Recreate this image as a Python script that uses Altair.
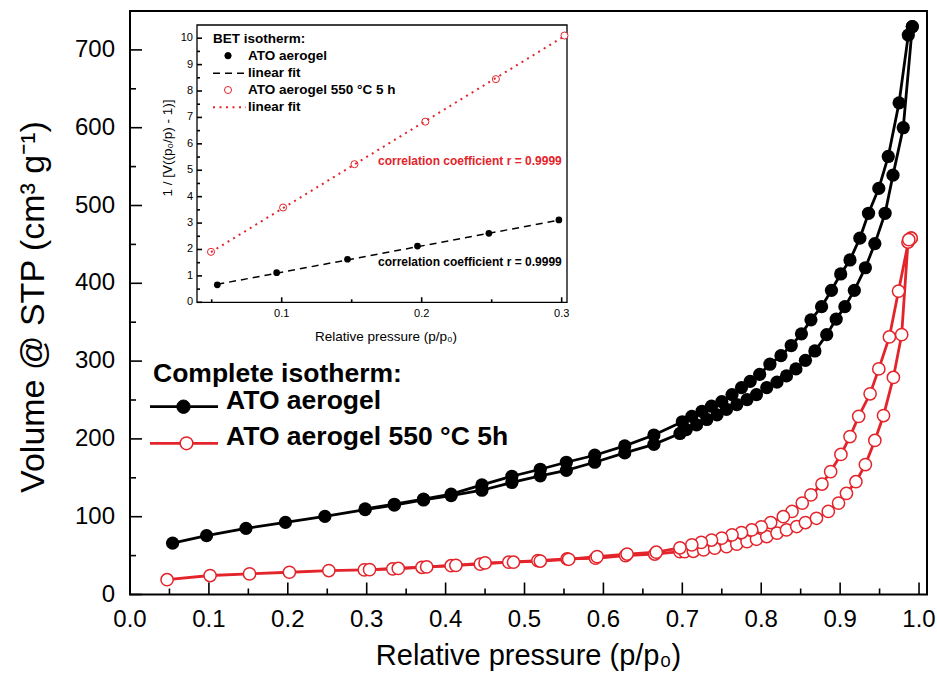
import altair as alt
import pandas as pd

FONT = "Liberation Sans"
BLACK = "#000000"
RED = "#e3242b"

# Complete N2 isotherm, ATO aerogel (p/p0, cm3 g-1 STP)
ato_ads_p = [0.054, 0.097, 0.147, 0.197, 0.247, 0.298, 0.335, 0.372, 0.407, 0.446,
             0.484, 0.520, 0.553, 0.589, 0.627, 0.664, 0.697, 0.705, 0.718, 0.731,
             0.744, 0.756, 0.769, 0.782, 0.794, 0.807, 0.820, 0.832, 0.844, 0.856,
             0.868, 0.883, 0.895, 0.906, 0.918, 0.932, 0.944, 0.957, 0.967, 0.980, 0.9915]
ato_ads_v = [66, 75.6, 85, 92.7, 100.4, 109, 115, 121.5, 127, 134,
             144, 152.5, 159.5, 170, 182, 193, 207, 212, 218, 225,
             231, 238, 244, 250.5, 257, 266, 273, 281, 290, 301,
             313, 334, 354, 370, 391, 420, 451, 490, 539, 600, 730]
ato_des_p = [0.9915, 0.9864, 0.9747, 0.961, 0.949, 0.936, 0.925, 0.9125, 0.9007, 0.889,
             0.8765, 0.863, 0.851, 0.838, 0.825, 0.811, 0.798, 0.786, 0.775, 0.763,
             0.750, 0.737, 0.725, 0.712, 0.700, 0.664, 0.627, 0.589, 0.553, 0.520,
             0.484, 0.446, 0.407, 0.372, 0.335, 0.298]
ato_des_v = [730, 719, 632, 563, 522, 490, 458, 430, 412, 391,
             370, 353, 335, 320, 307, 296, 283, 274, 266, 257,
             248, 242, 235.5, 229, 222, 205, 191, 179, 170, 161,
             152, 141, 129, 122.5, 116, 110]

# Complete N2 isotherm, ATO aerogel 550 °C 5 h
cal_ads_p = [0.047, 0.1015, 0.1515, 0.202, 0.252, 0.297, 0.333, 0.370, 0.407, 0.444,
             0.480, 0.517, 0.554, 0.590, 0.628, 0.665, 0.697, 0.703, 0.714, 0.727,
             0.741, 0.756, 0.769, 0.782, 0.794, 0.807, 0.820, 0.832, 0.845, 0.856,
             0.870, 0.885, 0.898, 0.908, 0.920, 0.932, 0.944, 0.955, 0.9675, 0.978,
             0.986, 0.990]
cal_ads_v = [19, 24.4, 26.5, 28.6, 30.8, 31.6, 33, 35, 37, 39,
             41.5, 43.6, 45.7, 46.6, 50, 52, 55, 55, 55.5, 57.3,
             59.5, 61.6, 64.7, 68, 71, 74.5, 78.9, 83, 87.4, 92.5,
             98, 106.7, 117.5, 130, 145, 167, 198, 230, 279, 334,
             453, 458]
cal_des_p = [0.990, 0.987, 0.974, 0.9624, 0.949, 0.938, 0.9235, 0.9125, 0.901, 0.888,
             0.877, 0.863, 0.852, 0.839, 0.828, 0.812, 0.800, 0.788, 0.775, 0.763,
             0.750, 0.737, 0.724, 0.712, 0.697, 0.667, 0.630, 0.592, 0.556, 0.520,
             0.486, 0.450, 0.413, 0.376, 0.340, 0.3036]
cal_des_v = [458, 456, 390, 331, 290, 258, 229, 203, 180, 158,
             142, 128, 117.5, 106.7, 100, 92.5, 87, 83, 79.6, 76.7,
             72.4, 70, 67, 63.8, 60, 54.4, 52, 48.7, 45.3, 43,
             41.5, 40.6, 37.5, 35.5, 33.5, 32]

# BET plot: 1 / [V((p0/p) - 1)] against p/p0, with linear fits
bet_ato_p = [0.054, 0.0964, 0.147, 0.197, 0.248, 0.298]
bet_ato_y = [0.66, 1.12, 1.63, 2.13, 2.61, 3.12]
bet_cal_p = [0.0495, 0.101, 0.152, 0.2026, 0.253, 0.302]
bet_cal_y = [1.91, 3.59, 5.23, 6.84, 8.45, 10.1]
fit_ato_p = [0.054, 0.300]
fit_ato_y = [0.68, 3.13]
fit_cal_p = [0.0495, 0.302]
fit_cal_y = [1.90, 10.08]

# Axis tick values
x_major = [round(0.1 * i, 1) for i in range(11)]
x_minor = [round(0.05 + 0.1 * i, 2) for i in range(10)]
y_major = [100 * i for i in range(8)]
y_minor = [50 + 100 * i for i in range(7)]
ix_major = [0.1, 0.2, 0.3]
ix_minor = [0.05, 0.15, 0.25]
iy_major = list(range(11))
iy_minor = [0.5 + i for i in range(10)]

# Layout (plot-area pixels)
W, H = 797, 583.5
IN_L, IN_R, IN_T, IN_B = 67, 437, 14, 291.3


def branch(ps, vs, name):
    return pd.DataFrame({"p": ps, "v": vs, "branch": name, "idx": range(len(ps))})


ato = pd.concat([branch(ato_ads_p, ato_ads_v, "ads"), branch(ato_des_p, ato_des_v, "des")])
cal = pd.concat([branch(cal_ads_p, cal_ads_v, "ads"), branch(cal_des_p, cal_des_v, "des")])

xs = alt.Scale(domain=[0, 1.0101], nice=False, zero=False)
ys = alt.Scale(domain=[0, 750], nice=False, zero=False)
ONE = alt.Data(values=[{}])


def curve_lines(df, color):
    return alt.Chart(df).mark_line(color=color, strokeWidth=2.8).encode(
        x=alt.X("p:Q", scale=xs, axis=None),
        y=alt.Y("v:Q", scale=ys, axis=None),
        detail="branch:N",
        order="idx:Q",
    )


cal_lines = curve_lines(cal, RED)
ato_lines = curve_lines(ato, BLACK)
cal_pts = alt.Chart(cal).mark_point(shape="circle", filled=True, fill="white", stroke=RED,
                                    strokeWidth=1.5, size=150, opacity=1).encode(
    x=alt.X("p:Q", scale=xs, axis=None), y=alt.Y("v:Q", scale=ys, axis=None))
ato_pts = alt.Chart(ato).mark_circle(color=BLACK, size=175, opacity=1).encode(
    x=alt.X("p:Q", scale=xs, axis=None), y=alt.Y("v:Q", scale=ys, axis=None))


def xticks(vals, length, scale, base):
    return alt.Chart(pd.DataFrame({"t": vals})).mark_rule(color=BLACK, strokeWidth=1.6).encode(
        x=alt.X("t:Q", scale=scale, axis=None), y=alt.value(base), y2=alt.value(base - length))


def yticks(vals, length, scale, base):
    return alt.Chart(pd.DataFrame({"t": vals})).mark_rule(color=BLACK, strokeWidth=1.6).encode(
        y=alt.Y("t:Q", scale=scale, axis=None), x=alt.value(base), x2=alt.value(base + length))


def xlabels(vals, fmt, scale, ypos, size):
    return alt.Chart(pd.DataFrame({"t": vals})).mark_text(
        align="center", baseline="middle", font=FONT, fontSize=size, color=BLACK).encode(
        x=alt.X("t:Q", scale=scale, axis=None), y=alt.value(ypos),
        text=alt.Text("t:Q", format=fmt))


def ylabels(vals, fmt, scale, xpos, size):
    return alt.Chart(pd.DataFrame({"t": vals})).mark_text(
        align="right", baseline="middle", font=FONT, fontSize=size, color=BLACK).encode(
        y=alt.Y("t:Q", scale=scale, axis=None), x=alt.value(xpos),
        text=alt.Text("t:Q", format=fmt))


def label(txt, x, y, size, color=BLACK, weight="bold", align="left", angle=0):
    return alt.Chart(ONE).mark_text(align=align, baseline="middle", font=FONT, fontSize=size,
                                    fontWeight=weight, color=color, text=txt, angle=angle).encode(
        x=alt.value(x), y=alt.value(y))


def swatch_line(x0, x1, y, color, width, dash=None):
    kw = dict(color=color, strokeWidth=width)
    if dash:
        kw["strokeDash"] = dash
    return alt.Chart(ONE).mark_rule(**kw).encode(x=alt.value(x0), x2=alt.value(x1), y=alt.value(y))


def swatch_dot(x, y, size, fill, stroke, sw):
    return alt.Chart(ONE).mark_point(shape="circle", filled=True, fill=fill, stroke=stroke,
                                     strokeWidth=sw, size=size, opacity=1).encode(
        x=alt.value(x), y=alt.value(y))


main_axes = [
    xticks(x_major, 12, xs, H), xticks(x_minor, 6, xs, H),
    yticks(y_major, 12, ys, 0), yticks(y_minor, 6, ys, 0),
    xlabels(x_major, ".1f", xs, H + 25, 24),
    ylabels(y_major, "d", ys, -15, 24),
    label("Relative pressure (p/p₀)", W / 2, H + 61, 29, weight="normal", align="center"),
    label("Volume @ STP (cm³ g⁻¹)", -96, 296, 34, weight="normal", align="center", angle=270),
]

legend_main = [
    label("Complete isotherm:", 23, 363, 26.5),
    swatch_line(20, 88, 395.7, BLACK, 2.8),
    swatch_dot(53.5, 395.7, 180, BLACK, BLACK, 1),
    label("ATO aerogel", 96, 390, 26.5),
    swatch_line(20, 88, 432.3, RED, 2.8),
    swatch_dot(56.5, 432.3, 160, "white", RED, 1.5),
    label("ATO aerogel 550 °C 5h", 96, 426, 26.5),
]

main = alt.layer(cal_lines, ato_lines, cal_pts, ato_pts, *main_axes, *legend_main)

# Inset: BET plot
ixs = alt.Scale(domain=[0.0395, 0.3038], range=[IN_L, IN_R], nice=False, zero=False)
iys = alt.Scale(domain=[0, 10.5], range=[IN_B, IN_T], nice=False, zero=False)

inset_frame = alt.Chart(ONE).mark_rect(fill="white", stroke=BLACK, strokeWidth=1.3).encode(
    x=alt.value(IN_L), x2=alt.value(IN_R), y=alt.value(IN_T), y2=alt.value(IN_B))

bet_ato = pd.DataFrame({"p": bet_ato_p, "y": bet_ato_y})
bet_cal = pd.DataFrame({"p": bet_cal_p, "y": bet_cal_y})
fit_ato = pd.DataFrame({"p": fit_ato_p, "y": fit_ato_y})
fit_cal = pd.DataFrame({"p": fit_cal_p, "y": fit_cal_y})

ins_ato_pts = alt.Chart(bet_ato).mark_circle(color=BLACK, size=45, opacity=1).encode(
    x=alt.X("p:Q", scale=ixs, axis=None), y=alt.Y("y:Q", scale=iys, axis=None))
ins_cal_pts = alt.Chart(bet_cal).mark_point(shape="circle", filled=True, fill="white", stroke=RED,
                                            strokeWidth=1, size=50, opacity=1).encode(
    x=alt.X("p:Q", scale=ixs, axis=None), y=alt.Y("y:Q", scale=iys, axis=None))
ins_fit_ato = alt.Chart(fit_ato).mark_line(color=BLACK, strokeWidth=1.5, strokeDash=[7, 5]).encode(
    x=alt.X("p:Q", scale=ixs, axis=None), y=alt.Y("y:Q", scale=iys, axis=None))
ins_fit_cal = alt.Chart(fit_cal).mark_line(color=RED, strokeWidth=2, strokeDash=[2, 4.5]).encode(
    x=alt.X("p:Q", scale=ixs, axis=None), y=alt.Y("y:Q", scale=iys, axis=None))

inset_axes = [
    xticks(ix_major, 5, ixs, IN_B), xticks(ix_minor, 3, ixs, IN_B),
    yticks(iy_major, 5, iys, IN_L), yticks(iy_minor, 3, iys, IN_L),
    xlabels(ix_major, ".1f", ixs, IN_B + 12, 11),
    ylabels(iy_major, "d", iys, IN_L - 4, 11),
    label("Relative pressure (p/p₀)", 256, 325.7, 13.5, weight="normal", align="center"),
    label("1 / [V((p₀/p) - 1)]", 38, 137, 13.5, weight="normal", align="center", angle=270),
]

legend_inset = [
    label("BET isotherm:", 83, 27.5, 13.5),
    swatch_dot(98, 44.7, 40, BLACK, BLACK, 1),
    label("ATO aerogel", 118, 44.7, 13.5),
    swatch_line(83, 116, 62.3, BLACK, 1.5, [7, 5]),
    label("linear fit", 118, 62.3, 13.5),
    swatch_dot(98, 79, 50, "white", RED, 1),
    label("ATO aerogel 550 °C 5 h", 118, 79, 13.5),
    swatch_line(83, 116, 96.3, RED, 2, [2, 4.5]),
    label("linear fit", 118, 96.3, 13.5),
    label("correlation coefficient r = 0.9999", 248, 149.7, 12, RED),
    label("correlation coefficient r = 0.9999", 248, 251.3, 12, BLACK),
]

inset = alt.layer(inset_frame, ins_fit_ato, ins_ato_pts, ins_cal_pts, ins_fit_cal,
                  *inset_axes, *legend_inset)

chart = alt.layer(main, inset).resolve_scale(x="independent", y="independent").properties(
    width=W, height=H,
    autosize=alt.AutoSizeParams(type="none"),
    padding={"left": 130, "top": 11, "right": 10, "bottom": 84},
    background="white",
).configure_view(stroke=BLACK, strokeWidth=2)

chart.save("out.html", embed_options={"renderer": "svg", "actions": False})
